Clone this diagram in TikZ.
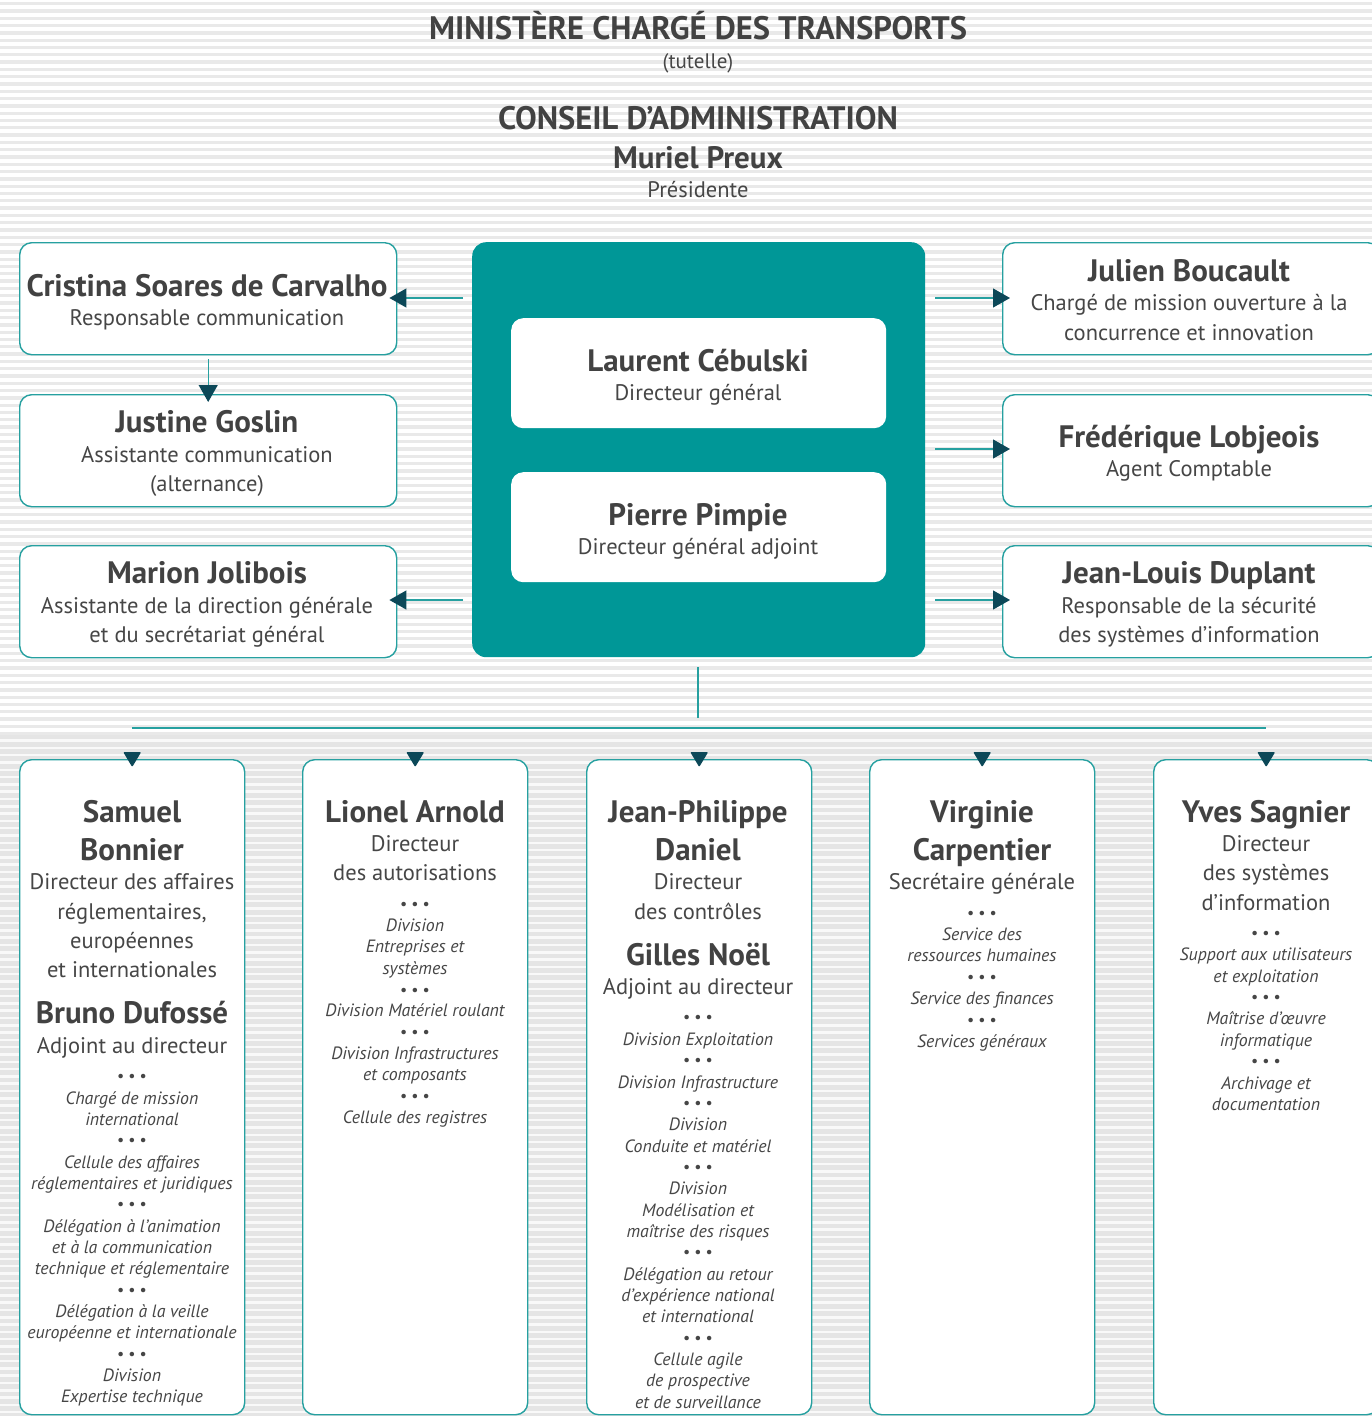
\documentclass[tikz,border=0pt]{standalone}
\usepackage{fontspec}
\setmainfont{PT Sans}
\usetikzlibrary{arrows.meta,calc}
\definecolor{tealbox}{RGB}{0,151,151}
\definecolor{bord}{RGB}{38,160,160}
\definecolor{tipc}{RGB}{12,72,88}
\definecolor{txt}{RGB}{70,70,70}
\definecolor{txtd}{RGB}{66,66,66}
\definecolor{stripe}{RGB}{233,233,233}
\definecolor{bggray}{RGB}{229,229,229}
\newcommand\mydots{•\hspace{4pt}•\hspace{4pt}•}
\begin{document}
\begin{tikzpicture}[x=1pt,y=-1pt,
  sbox/.style={draw=bord,line width=1.4pt,fill=white,rounded corners=12pt,anchor=north west,inner sep=0pt},
  ibox/.style={fill=white,rounded corners=12pt,anchor=north west,inner sep=0pt},
  ttl/.style={font=\fontsize{32.5}{36}\selectfont\bfseries,text=txtd,anchor=base,inner sep=0pt,yshift=-11.5pt},
  nm/.style={font=\fontsize{31}{36}\selectfont\bfseries,text=txtd,anchor=base,inner sep=0pt,yshift=-11pt},
  rg/.style={font=\fontsize{22.5}{27}\selectfont,text=txt,anchor=base,inner sep=0pt,yshift=-8pt},
  itx/.style={font=\fontsize{17.8}{21}\selectfont\itshape,text=txt,anchor=base,inner sep=0pt,yshift=-6pt},
  dt/.style={font=\fontsize{16}{18}\selectfont,text=txt,anchor=base,inner sep=0pt,yshift=-5pt},
  conn/.style={draw=bord,line width=1.2pt,-{Triangle[length=17pt,width=19pt,color=tipc,fill=tipc]}},
  bus/.style={draw=bord,line width=1.2pt}
]
\useasboundingbox (0,0) rectangle (1372,1416);
% background
\fill[white] (0,0) rectangle (1372,1416);
\fill[bggray] (0,735) rectangle (1372,1416);
\foreach \k in {0,...,100} \fill[stripe] (0,{\k*7.3+2}) rectangle (1372,{\k*7.3+5.3});
\foreach \k in {101,...,194} \fill[white!75!bggray] (0,{\k*7.3+2}) rectangle (1372,{\k*7.3+4.5});

% header
\node[ttl] (min) at (698,28) {MINISTÈRE CHARGÉ DES TRANSPORTS};
\node[rg,font=\fontsize{21}{25}\selectfont] (tut) at (698,60) {(tutelle)};
\node[ttl] (ca) at (698,118) {CONSEIL D’ADMINISTRATION};
\node[nm] (mp) at (698,157) {Muriel Preux};
\node[rg] (pres) at (698,189) {Présidente};

% central box
\node[fill=tealbox,rounded corners=14pt,anchor=north west,inner sep=0pt,minimum width=453pt,minimum height=415pt] (ctr) at (472,242) {};
\node[ibox,minimum width=375pt,minimum height=110pt] (dg) at (511,318) {};
\node[ibox,minimum width=375pt,minimum height=110pt] (dga) at (511,472) {};
\node[nm] (dgn) at (698,360) {Laurent Cébulski};
\node[rg] (dgt) at (698,392) {Directeur général};
\node[nm] (dgan) at (698,514) {Pierre Pimpie};
\node[rg] (dgat) at (698,546) {Directeur général adjoint};

% left boxes
\node[sbox,minimum width=377pt,minimum height=112pt] (l1) at (19,242) {};
\node[sbox,minimum width=377pt,minimum height=112pt] (l2) at (19,394) {};
\node[sbox,minimum width=377pt,minimum height=112pt] (l3) at (19,545) {};
\node[nm] (l1n) at (207,285) {Cristina Soares de Carvalho};
\node[rg] (l1t) at (207,317) {Responsable communication};
\node[nm] (l2n) at (207,421) {Justine Goslin};
\node[rg] (l2t) at (207,454) {Assistante communication};
\node[rg] (l2u) at (207,483) {(alternance)};
\node[nm] (l3n) at (207,572) {Marion Jolibois};
\node[rg] (l3t) at (207,605) {Assistante de la direction générale};
\node[rg] (l3u) at (207,634) {et du secrétariat général};

% right boxes
\node[sbox,minimum width=377pt,minimum height=112pt] (r1) at (1002,242) {};
\node[sbox,minimum width=377pt,minimum height=112pt] (r2) at (1002,394) {};
\node[sbox,minimum width=377pt,minimum height=112pt] (r3) at (1002,545) {};
\node[nm] (r1n) at (1189,270) {Julien Boucault};
\node[rg] (r1t) at (1189,302) {Chargé de mission ouverture à la};
\node[rg] (r1u) at (1189,332) {concurrence et innovation};
\node[nm] (r2n) at (1189,436) {Frédérique Lobjeois};
\node[rg] (r2t) at (1189,468) {Agent Comptable};
\node[nm] (r3n) at (1189,572) {Jean-Louis Duplant};
\node[rg] (r3t) at (1189,605) {Responsable de la sécurité};
\node[rg] (r3u) at (1189,634) {des systèmes d’information};

% side connectors
\draw[conn,shorten >=-8pt] ($(ctr.west|-0,298)+(-9,0)$) -- (l1.east|-0,298);
\draw[conn,shorten >=-8pt] ($(ctr.west|-0,600)+(-9,0)$) -- (l3.east|-0,600);
\draw[conn,shorten >=-8pt] ($(l1.south)+(0,4)$) -- (l2.north);
\draw[conn,shorten >=-8pt] ($(ctr.east|-0,298)+(10,0)$) -- (r1.west|-0,298);
\draw[conn,shorten >=-8pt] ($(ctr.east|-0,449)+(10,0)$) -- (r2.west|-0,449);
\draw[conn,shorten >=-8pt] ($(ctr.east|-0,600)+(10,0)$) -- (r3.west|-0,600);

% columns
\foreach \cx [count=\c] in {19,302,586,869,1153}
  \node[sbox,minimum width=225pt,minimum height=655pt] (col\c) at (\cx,759) {};
\coordinate (busl) at (132,728);
\coordinate (busr) at (1266,728);
\coordinate (vtop) at (698,667);
\coordinate (vbot) at (698,718);
\draw[bus] (vtop) -- (vbot);
\draw[bus] (busl) -- (busr);
\foreach \c in {1,...,5}
  \fill[tipc,rounded corners=1pt] ($(col\c.north)+(-9,-7)$) -- ($(col\c.north)+(9,-7)$) -- ($(col\c.north)+(0,8)$) -- cycle;

% column 1
\foreach \y/\s/\t [count=\i] in {811/nm/Samuel, 849/nm/Bonnier, 881/rg/Directeur des affaires, 911/rg/{réglementaires,}, 940/rg/européennes, 969/rg/et internationales, 1012/nm/Bruno Dufossé, 1045/rg/Adjoint au directeur, 1076/dt/\mydots, 1098/itx/Chargé de mission, 1119/itx/international, 1140/dt/\mydots, 1162/itx/Cellule des affaires, 1183/itx/réglementaires et juridiques, 1204/dt/\mydots, 1226/itx/Délégation à l’animation, 1247/itx/et à la communication, 1268/itx/technique et réglementaire, 1290/dt/\mydots, 1311/itx/Délégation à la veille, 1332/itx/européenne et internationale, 1354/dt/\mydots, 1375/itx/Division, 1396/itx/Expertise technique}
  \node[\s] (ca\i) at (132,\y) {\t};

% column 2
\foreach \y/\s/\t [count=\i] in {811/nm/Lionel Arnold, 843/rg/Directeur, 872/rg/des autorisations, 904/dt/\mydots, 925/itx/Division, 946/itx/Entreprises et, 968/itx/systèmes, 990/dt/\mydots, 1010/itx/Division Matériel roulant, 1032/dt/\mydots, 1053/itx/Division Infrastructures, 1074/itx/et composants, 1096/dt/\mydots, 1117/itx/Cellule des registres}
  \node[\s] (cb\i) at (415,\y) {\t};

% column 3
\foreach \y/\s/\t [count=\i] in {811/nm/Jean-Philippe, 849/nm/Daniel, 881/rg/Directeur, 911/rg/des contrôles, 954/nm/Gilles Noël, 986/rg/Adjoint au directeur, 1017/dt/\mydots, 1039/itx/Division Exploitation, 1060/dt/\mydots, 1082/itx/Division Infrastructure, 1103/dt/\mydots, 1124/itx/Division, 1146/itx/Conduite et matériel, 1167/dt/\mydots, 1188/itx/Division, 1210/itx/Modélisation et, 1231/itx/maîtrise des risques, 1252/dt/\mydots, 1274/itx/Délégation au retour, 1295/itx/d’expérience national, 1316/itx/et international, 1338/dt/\mydots, 1359/itx/Cellule agile, 1380/itx/de prospective, 1402/itx/et de surveillance}
  \node[\s] (cc\i) at (698,\y) {\t};

% column 4
\foreach \y/\s/\t [count=\i] in {811/nm/Virginie, 849/nm/Carpentier, 881/rg/Secrétaire générale, 913/dt/\mydots, 934/itx/Service des, 955/itx/ressources humaines, 977/dt/\mydots, 998/itx/Service des finances, 1020/dt/\mydots, 1041/itx/Services généraux}
  \node[\s] (cd\i) at (982,\y) {\t};

% column 5
\foreach \y/\s/\t [count=\i] in {811/nm/Yves Sagnier, 843/rg/Directeur, 872/rg/des systèmes, 902/rg/d’information, 933/dt/\mydots, 954/itx/Support aux utilisateurs, 976/itx/et exploitation, 997/dt/\mydots, 1018/itx/Maîtrise d’œuvre, 1040/itx/informatique, 1061/dt/\mydots, 1083/itx/Archivage et, 1104/itx/documentation}
  \node[\s] (ce\i) at (1266,\y) {\t};
\end{tikzpicture}
\end{document}
